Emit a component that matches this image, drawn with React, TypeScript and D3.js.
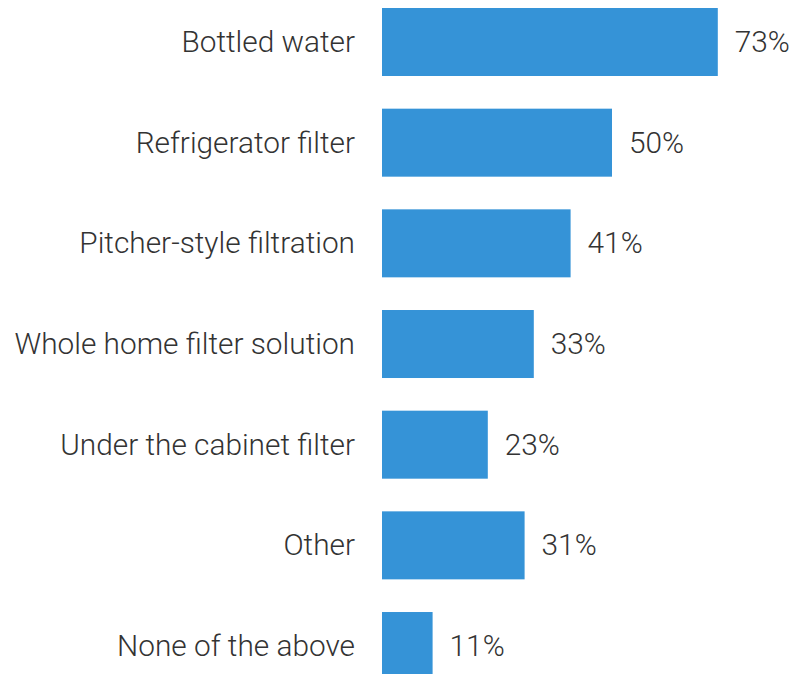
import React from "react";
import * as d3 from "d3";

const categories = [
  "Bottled water",
  "Refrigerator filter",
  "Pitcher-style filtration",
  "Whole home filter solution",
  "Under the cabinet filter",
  "Other",
  "None of the above",
];
const values = [73, 50, 41, 33, 23, 31, 11];

const W = 794;
const H = 674;

export default function App() {
  const x = d3.scaleLinear().domain([0, 100]).range([382, 842]);
  const step = 100.67;
  const p = 32.67 / step;
  const q = 8 / step;
  const y = d3
    .scaleBand<string>()
    .domain(categories)
    .range([0, step * (categories.length - p + 2 * q)])
    .paddingInner(p)
    .paddingOuter(q);
  const bh = y.bandwidth();
  return (
    <svg
      width={W}
      height={H}
      style={{ position: "absolute", left: 0, top: 0, display: "block", background: "#fff" }}
      fontFamily="Roboto, sans-serif"
    >
      {categories.map((c, i) => {
        const y0 = y(c) as number;
        return (
          <g key={c}>
            <rect x={x(0)} y={y0} width={x(values[i]) - x(0)} height={bh} fill="#3593d7" />
            <text
              x={x(0) - 27}
              y={y0 + bh / 2 + 10}
              textAnchor="end"
              fontSize={29.8}
              fontWeight={300}
              fill="#333"
            >
              {c}
            </text>
            <text
              x={x(values[i]) + 17}
              y={y0 + bh / 2 + 10}
              fontSize={29.8}
              fontWeight={300}
              fill="#333"
            >
              {values[i]}%
            </text>
          </g>
        );
      })}
    </svg>
  );
}
